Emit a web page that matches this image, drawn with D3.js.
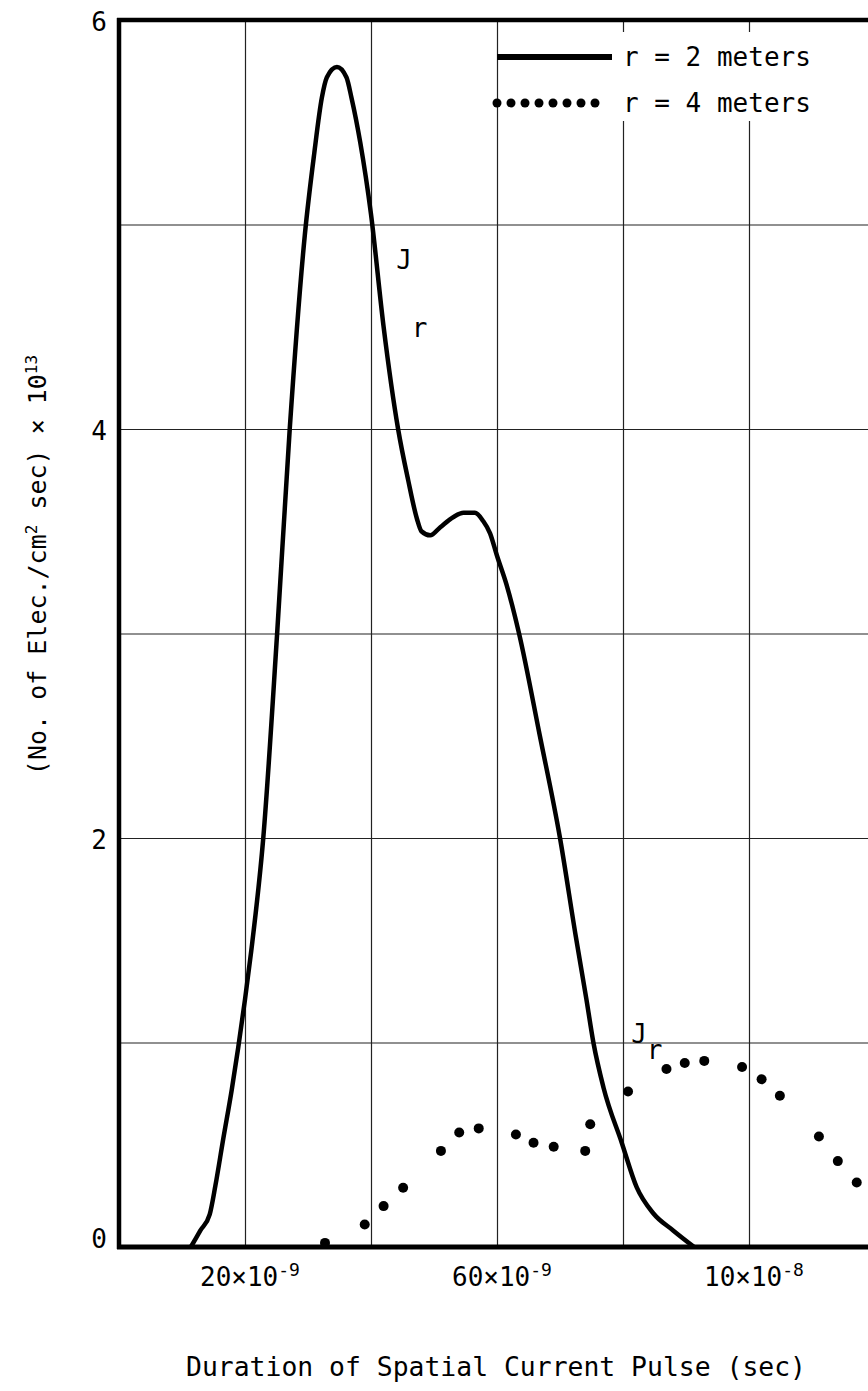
<!DOCTYPE html>
<html>
<head>
<meta charset="utf-8">
<script src="https://cdn.jsdelivr.net/npm/d3@7"></script>
<style>
  body { margin: 0; background: #fff; }
  svg text { font-family: 'DejaVu Sans Mono', monospace; fill: #000; }
</style>
</head>
<body>
<script>
const [w, h] = [868, 1391];
const plot = { left: 119, top: 20, right: 875, bottom: 1247 };

// pulse duration in ns, flux in units of 10^13
const durationR2 = [11.4, 12.9, 14.4, 15.3, 16.5, 17.9, 18.9, 20.0, 21.0, 22.9, 25.1, 27.1, 29.5, 31.0, 32.2, 33.0, 34.6, 36.1, 36.9, 38.3, 40.0, 42.0, 44.3, 45.9, 47.3, 48.0, 49.4, 51.0, 53.1, 54.7, 56.5, 57.8, 58.9, 60.0, 61.5, 63.5, 66.8, 70.0, 72.5, 74.2, 75.3, 76.9, 79.8, 82.2, 84.8, 88.0, 91.3];
const fluxR2 = [0, 0.08, 0.16, 0.3, 0.52, 0.77, 0.97, 1.21, 1.45, 2.0, 3.0, 4.0, 4.95, 5.35, 5.62, 5.72, 5.77, 5.72, 5.62, 5.4, 5.05, 4.5, 4.0, 3.75, 3.56, 3.5, 3.48, 3.52, 3.57, 3.59, 3.59, 3.55, 3.49, 3.38, 3.24, 3.0, 2.5, 2.0, 1.52, 1.21, 1.0, 0.78, 0.51, 0.29, 0.165, 0.08, 0];

const durationR4 = [32.7, 39.0, 42.0, 45.1, 51.1, 54.0, 57.1, 63.0, 65.8, 69.0, 74.0, 74.8, 80.8, 86.9, 89.8, 92.9, 98.9, 102.0, 104.9, 111.1, 114.1, 117.1];
const fluxR4 = [0.02, 0.11, 0.20, 0.29, 0.47, 0.56, 0.58, 0.55, 0.51, 0.49, 0.47, 0.60, 0.76, 0.87, 0.90, 0.91, 0.88, 0.82, 0.74, 0.54, 0.42, 0.315];

const yTicks = [0, 2, 4, 6];
const yGrid = [1, 2, 3, 4, 5];
const xGrid = [20, 40, 60, 80, 100];
const xTickValues = [20, 60, 100];
const xTickBase = ['20×10', '60×10', '10×10'];
const xTickExp = ['-9', '-9', '-8'];
const seriesNames = ['r = 2 meters', 'r = 4 meters'];

const svg = d3.select('body')
  .append('svg')
  .attr('width', w)
  .attr('height', h);

const x = d3.scaleLinear().domain([0, 120]).range([plot.left, plot.right]);
const y = d3.scaleLinear().domain([0, 6]).range([plot.bottom, plot.top]);

// grid
const xGridAxis = svg.append('g')
  .attr('transform', `translate(0, ${plot.bottom})`)
  .call(d3.axisBottom(x).tickValues(xGrid).tickSize(-(plot.bottom - plot.top)).tickFormat(''));
const yGridAxis = svg.append('g')
  .attr('transform', `translate(${plot.left}, 0)`)
  .call(d3.axisLeft(y).tickValues(yGrid).tickSize(-(plot.right - plot.left)).tickFormat(''));
[xGridAxis, yGridAxis].forEach(g => {
  g.select('.domain').remove();
  g.selectAll('line').attr('stroke', '#222').attr('stroke-width', 1.2);
});

// r = 2 m curve
const r2 = durationR2.map((d, i) => [d, fluxR2[i]]);
svg.append('path')
  .datum(r2)
  .attr('fill', 'none')
  .attr('stroke', '#000')
  .attr('stroke-width', 4.5)
  .attr('stroke-linejoin', 'round')
  .attr('d', d3.line().x(d => x(d[0])).y(d => y(d[1])).curve(d3.curveMonotoneX));

// r = 4 m dots
const r4 = durationR4.map((d, i) => [d, fluxR4[i]]);
svg.selectAll('circle.r4')
  .data(r4)
  .enter()
  .append('circle')
  .attr('class', 'r4')
  .attr('cx', d => x(d[0]))
  .attr('cy', d => y(d[1]))
  .attr('r', 5);

// frame: left axis, bottom axis, top border
svg.append('line').attr('x1', plot.left).attr('x2', plot.left).attr('y1', plot.top - 2).attr('y2', plot.bottom + 2)
  .attr('stroke', '#000').attr('stroke-width', 4.5);
svg.append('line').attr('x1', plot.left - 2).attr('x2', plot.right).attr('y1', plot.bottom).attr('y2', plot.bottom)
  .attr('stroke', '#000').attr('stroke-width', 5);
svg.append('line').attr('x1', plot.left - 2).attr('x2', plot.right).attr('y1', plot.top).attr('y2', plot.top)
  .attr('stroke', '#000').attr('stroke-width', 4.5);

// y tick labels
svg.selectAll('text.ytick')
  .data(yTicks)
  .enter()
  .append('text')
  .attr('class', 'ytick')
  .attr('x', 107)
  .attr('y', d => y(d) + (d === 0 ? 1 : 11))
  .attr('text-anchor', 'end')
  .attr('font-size', 26)
  .text(d => d);

// x tick labels
const xLabels = svg.selectAll('text.xtick')
  .data(xTickValues)
  .enter()
  .append('text')
  .attr('class', 'xtick')
  .attr('x', d => x(d) - 45)
  .attr('y', 1286)
  .attr('font-size', 26);
xLabels.append('tspan').text((d, i) => xTickBase[i]);
xLabels.append('tspan').attr('dy', -10).attr('font-size', 18).text((d, i) => xTickExp[i]);

// axis titles
svg.append('text')
  .attr('x', 186)
  .attr('y', 1376)
  .attr('font-size', 26)
  .attr('textLength', 620)
  .attr('lengthAdjust', 'spacingAndGlyphs')
  .text('Duration of Spatial Current Pulse (sec)');

const yTitle = svg.append('text')
  .attr('transform', 'translate(46, 565) rotate(-90)')
  .attr('text-anchor', 'middle')
  .attr('font-size', 25);
yTitle.append('tspan').text('(No. of Elec./cm');
yTitle.append('tspan').attr('dy', -9).attr('font-size', 16).text('2');
yTitle.append('tspan').attr('dy', 9).text(' sec) × 10');
yTitle.append('tspan').attr('dy', -9).attr('font-size', 16).text('13');

// curve labels: [ns, flux, subscript drop]
const jLabels = [[44.0, 4.78, 68], [81.3, 1.0, 16]];
jLabels.forEach(p => {
  const t = svg.append('text').attr('x', x(p[0])).attr('y', y(p[1])).attr('font-size', 26);
  t.append('tspan').text('J');
  t.append('tspan').attr('dy', p[2]).text('r');
});

// legend
const legend = svg.append('g');
legend.append('rect')
  .attr('x', 506).attr('y', 32).attr('width', 370).attr('height', 89)
  .attr('fill', '#fff');
legend.append('line')
  .attr('x1', x(60)).attr('x2', 612).attr('y1', 57).attr('y2', 57)
  .attr('stroke', '#000').attr('stroke-width', 6);
legend.selectAll('circle')
  .data(d3.range(8))
  .enter()
  .append('circle')
  .attr('cx', i => x(60) + i * 14)
  .attr('cy', 103)
  .attr('r', 4.5);
legend.selectAll('text')
  .data(seriesNames)
  .enter()
  .append('text')
  .attr('x', 623)
  .attr('y', (d, i) => 66 + i * 46)
  .attr('font-size', 26)
  .text(d => d);
</script>
</body>
</html>
